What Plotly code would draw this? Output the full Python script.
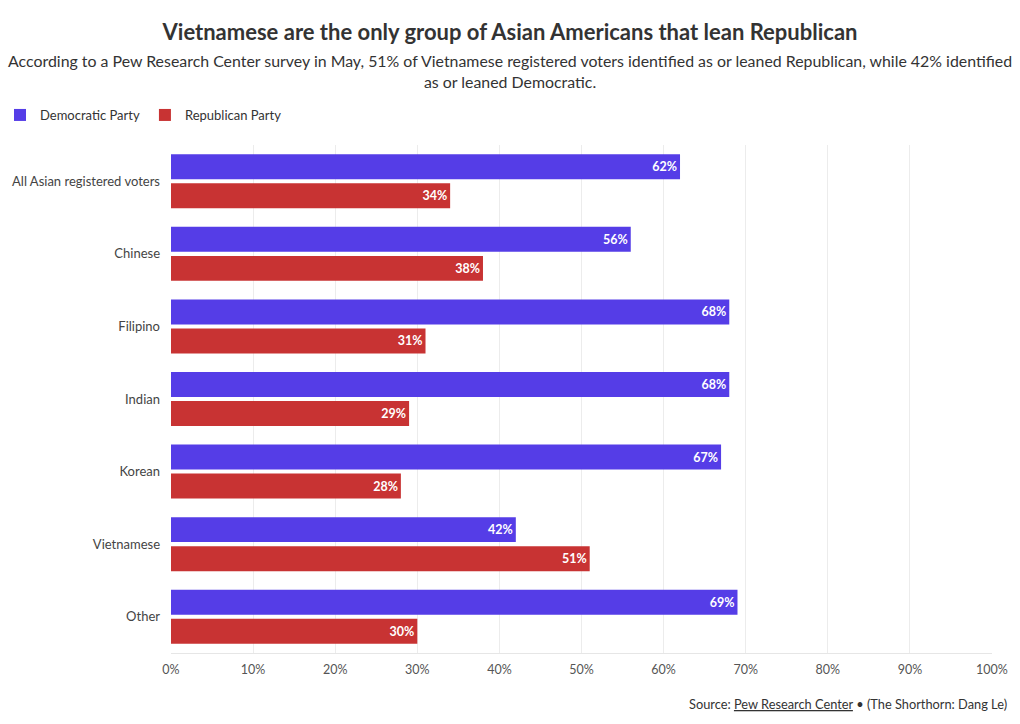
import plotly.graph_objects as go

categories = ["All Asian registered voters", "Chinese", "Filipino", "Indian", "Korean", "Vietnamese", "Other"]
democratic = [62, 56, 68, 68, 67, 42, 69]
republican = [34, 38, 31, 29, 28, 51, 30]
series_names = ["Democratic Party", "Republican Party"]
colors = ["#553de7", "#c83333"]
tick_vals = [0, 10, 20, 30, 40, 50, 60, 70, 80, 90, 100]
tick_text = [f"{v}%" for v in tick_vals]

FONT = "Lato"
L, R, T, B = 171, 28, 145, 71
PW = 1020 - L - R
PH = 724 - T - B

fig = go.Figure()
for name, vals, col in zip(series_names, [democratic, republican], colors):
    fig.add_trace(go.Bar(
        y=categories, x=vals, name=name, orientation="h",
        marker=dict(color=col, line=dict(width=0)),
        text=[f"{v}%" for v in vals], textposition="inside", insidetextanchor="end",
        textfont=dict(color="white", size=12.5, family=FONT, weight="bold"),
        cliponaxis=False,
    ))

fig.update_layout(
    width=1020, height=724,
    barmode="group", bargap=0.2, bargroupgap=0.14,
    plot_bgcolor="white", paper_bgcolor="white",
    font=dict(family=FONT, color="#444"),
    margin=dict(l=L, r=R, t=T, b=B, autoexpand=False),
    title=dict(text="<b>Vietnamese are the only group of Asian Americans that lean Republican</b>",
               x=0.5, xanchor="center", y=0.956, yanchor="middle",
               font=dict(size=22, color="#333", family=FONT)),
    showlegend=True,
    legend=dict(orientation="h", x=-(L - 0) / PW, xanchor="left", y=1 + 30 / PH, yanchor="middle",
                font=dict(size=13, color="#333"), traceorder="normal",
                itemclick=False, itemdoubleclick=False),
    xaxis=dict(range=[0, 100], tickvals=tick_vals, ticktext=tick_text,
               showgrid=True, gridcolor="#ececec", zeroline=False,
               showline=True, linecolor="#e6e6e6", ticks="",
               ticklabelstandoff=5, automargin=False,
               tickfont=dict(size=12.5, color="#555"), fixedrange=True),
    yaxis=dict(autorange="reversed", showgrid=False, ticks="", ticklen=0,
               ticklabelstandoff=10, automargin=False,
               tickfont=dict(size=13, color="#444"), fixedrange=True),
)

fig.add_annotation(
    text="According to a Pew Research Center survey in May, 51% of Vietnamese registered voters identified as or leaned Republican, while 42% identified<br>as or leaned Democratic.",
    xref="paper", yref="paper", x=(510 - L) / PW, y=1.0, xanchor="center", yanchor="middle",
    yshift=74, showarrow=False, align="center",
    font=dict(size=15.9, color="#333", family=FONT),
)
fig.add_annotation(
    text="Source: <a href='https://www.pewresearch.org' style='color:#333'><u>Pew Research Center</u></a> • (The Shorthorn: Dang Le)",
    xref="paper", yref="paper", x=1.0, y=0, xanchor="right", yanchor="middle",
    xshift=17, yshift=-51, showarrow=False,
    font=dict(size=12.8, color="#333", family=FONT),
)

fig.write_html("out.html", config={"displayModeBar": False},
               post_script="document.body.style.margin='0';")
